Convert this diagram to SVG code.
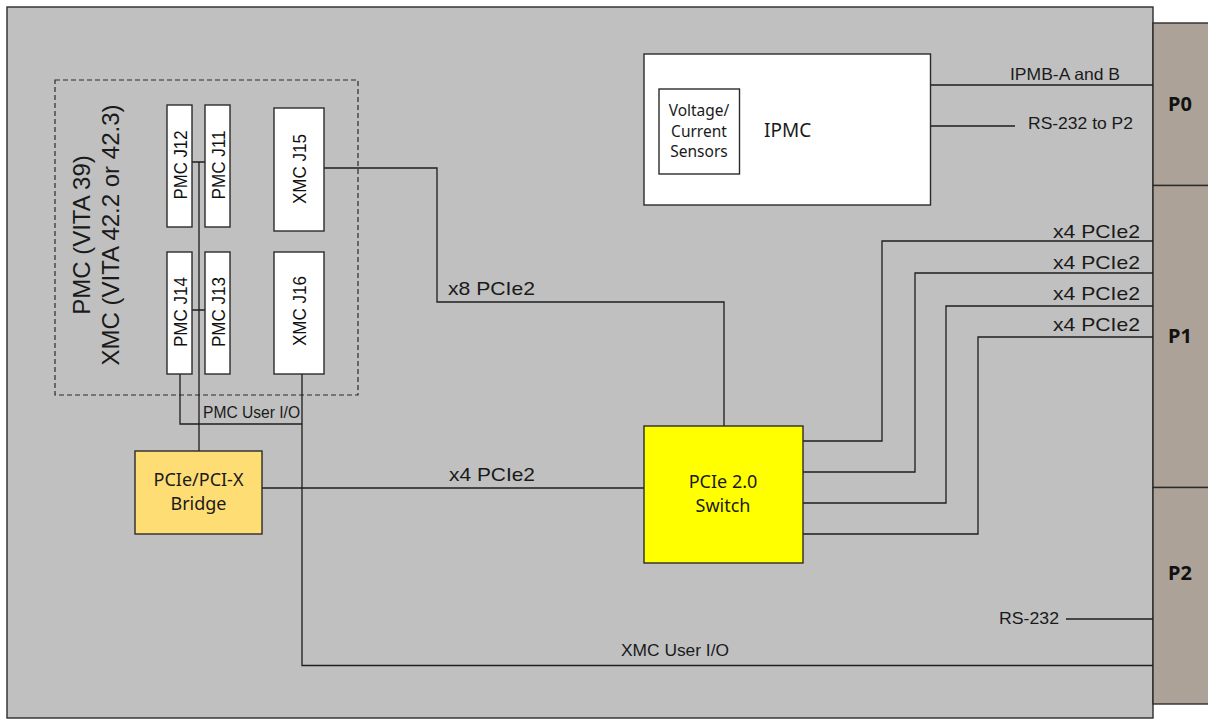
<svg xmlns="http://www.w3.org/2000/svg" width="1208" height="719" viewBox="0 0 1208 719">
<style>
.box{stroke:#2b2b2b;stroke-width:1.4}
.w{fill:none;stroke:#1e1e1e;stroke-width:1.3}
.a{font-family:"Liberation Sans",Arial,sans-serif;fill:#1a1a1a}
.c{font-family:"Noto Sans","Open Sans",sans-serif;fill:#1a1a1a}
.b{font-family:"Noto Sans","Open Sans",sans-serif;font-weight:bold;fill:#111;font-size:20px;text-anchor:middle}
.v{font-family:"Liberation Sans",Arial,sans-serif;fill:#111;font-size:18px;text-anchor:middle}
</style>
<rect x="0" y="0" width="1208" height="719" fill="#ffffff"/>
<g id="board">
<rect class="box" x="7" y="7" width="1146" height="711" fill="#c0c0c0"/>
</g>
<g id="P0">
<rect class="box" x="1153" y="23" width="60" height="162.5" fill="#aca298"/>
<text class="b" x="1180" y="111">P0</text>
</g>
<g id="P1">
<rect class="box" x="1153" y="185.5" width="60" height="302" fill="#aca298"/>
<text class="b" x="1180" y="343">P1</text>
</g>
<g id="P2">
<rect class="box" x="1153" y="487.5" width="60" height="216.5" fill="#aca298"/>
<text class="b" x="1180" y="580">P2</text>
</g>
<g id="mezzanine">
<rect x="55" y="80" width="303" height="315" fill="none" stroke="#2b2b2b" stroke-width="1.2" stroke-dasharray="5,3"/>
<text class="a" font-size="24" text-anchor="middle" transform="translate(90,235) rotate(-90)">PMC (VITA 39)</text>
<text class="a" font-size="24" text-anchor="middle" transform="translate(119,235) rotate(-90)">XMC (VITA 42.2 or 42.3)</text>
</g>
<g id="connectors">
<path class="w" d="M192,162H205M192,310H205M199,162V451"/>
<path class="w" d="M180,374V424H302"/>
<path class="w" d="M302,374V665.5H1153"/>
<path class="w" d="M324,168H437V302H724V426"/>
<path class="w" d="M262,488H644"/>
<path class="w" d="M803,441H882V241H1153"/>
<path class="w" d="M803,472H915V273H1153"/>
<path class="w" d="M803,503H946V306H1153"/>
<path class="w" d="M803,534H978V337H1153"/>
<path class="w" d="M930,85H1153M930,126H1015M1066,619H1153"/>
<text class="a" font-size="16" x="203" y="418" textLength="97" lengthAdjust="spacingAndGlyphs">PMC User I/O</text>
<text class="a" font-size="16" x="621" y="656" textLength="108" lengthAdjust="spacingAndGlyphs">XMC User I/O</text>
<text class="a" font-size="18.5" x="448" y="295" textLength="87" lengthAdjust="spacingAndGlyphs">x8 PCIe2</text>
<text class="a" font-size="18.5" x="449" y="481" textLength="86" lengthAdjust="spacingAndGlyphs">x4 PCIe2</text>
<text class="a" font-size="18.5" x="1053" y="238" textLength="87" lengthAdjust="spacingAndGlyphs">x4 PCIe2</text>
<text class="a" font-size="18.5" x="1053" y="269" textLength="87" lengthAdjust="spacingAndGlyphs">x4 PCIe2</text>
<text class="a" font-size="18.5" x="1053" y="300" textLength="87" lengthAdjust="spacingAndGlyphs">x4 PCIe2</text>
<text class="a" font-size="18.5" x="1053" y="331" textLength="87" lengthAdjust="spacingAndGlyphs">x4 PCIe2</text>
<text class="a" font-size="16.5" x="1010" y="80" textLength="110" lengthAdjust="spacingAndGlyphs">IPMB-A and B</text>
<text class="a" font-size="17" x="1028" y="129" textLength="105" lengthAdjust="spacingAndGlyphs">RS-232 to P2</text>
<text class="a" font-size="16.5" x="999" y="624" textLength="60" lengthAdjust="spacingAndGlyphs">RS-232</text>
</g>
<g id="J12">
<rect class="box" x="167" y="105" width="25" height="122" fill="#ffffff"/>
<text class="v" transform="translate(186.5,165) rotate(-90)" textLength="69" lengthAdjust="spacingAndGlyphs">PMC J12</text>
</g>
<g id="J11">
<rect class="box" x="205" y="105" width="25" height="122" fill="#ffffff"/>
<text class="v" transform="translate(224.5,165) rotate(-90)" textLength="69" lengthAdjust="spacingAndGlyphs">PMC J11</text>
</g>
<g id="J15">
<rect class="box" x="274" y="108" width="50" height="123" fill="#ffffff"/>
<text class="v" transform="translate(305.5,169) rotate(-90)" textLength="70" lengthAdjust="spacingAndGlyphs">XMC J15</text>
</g>
<g id="J14">
<rect class="box" x="167" y="252" width="25" height="122" fill="#ffffff"/>
<text class="v" transform="translate(186.5,312) rotate(-90)" textLength="70" lengthAdjust="spacingAndGlyphs">PMC J14</text>
</g>
<g id="J13">
<rect class="box" x="205" y="252" width="25" height="122" fill="#ffffff"/>
<text class="v" transform="translate(224.5,312) rotate(-90)" textLength="70" lengthAdjust="spacingAndGlyphs">PMC J13</text>
</g>
<g id="J16">
<rect class="box" x="274" y="252" width="50" height="122" fill="#ffffff"/>
<text class="v" transform="translate(305.5,311) rotate(-90)" textLength="70" lengthAdjust="spacingAndGlyphs">XMC J16</text>
</g>
<g id="bridge">
<rect class="box" x="135" y="451" width="127" height="83" fill="#ffdd75"/>
<text class="c" font-size="18" x="198.5" y="486" text-anchor="middle">PCIe/PCI-X</text>
<text class="c" font-size="18" x="198.5" y="510" text-anchor="middle">Bridge</text>
</g>
<g id="switch">
<rect class="box" x="644" y="426" width="159" height="137" fill="#ffff00"/>
<text class="c" font-size="18" x="723" y="488" text-anchor="middle">PCIe 2.0</text>
<text class="c" font-size="18" x="723" y="512" text-anchor="middle">Switch</text>
</g>
<g id="ipmc">
<rect class="box" x="644" y="54" width="286.5" height="151" fill="#ffffff"/>
<text class="c" font-size="19" x="764" y="137">IPMC</text>
</g>
<g id="sensors">
<rect class="box" x="659" y="89" width="80.5" height="85" fill="#ffffff"/>
<text class="c" font-size="15.5" x="699" y="116" text-anchor="middle">Voltage/</text>
<text class="c" font-size="15.5" x="699" y="137" text-anchor="middle">Current</text>
<text class="c" font-size="15.5" x="699" y="157" text-anchor="middle">Sensors</text>
</g>
</svg>
